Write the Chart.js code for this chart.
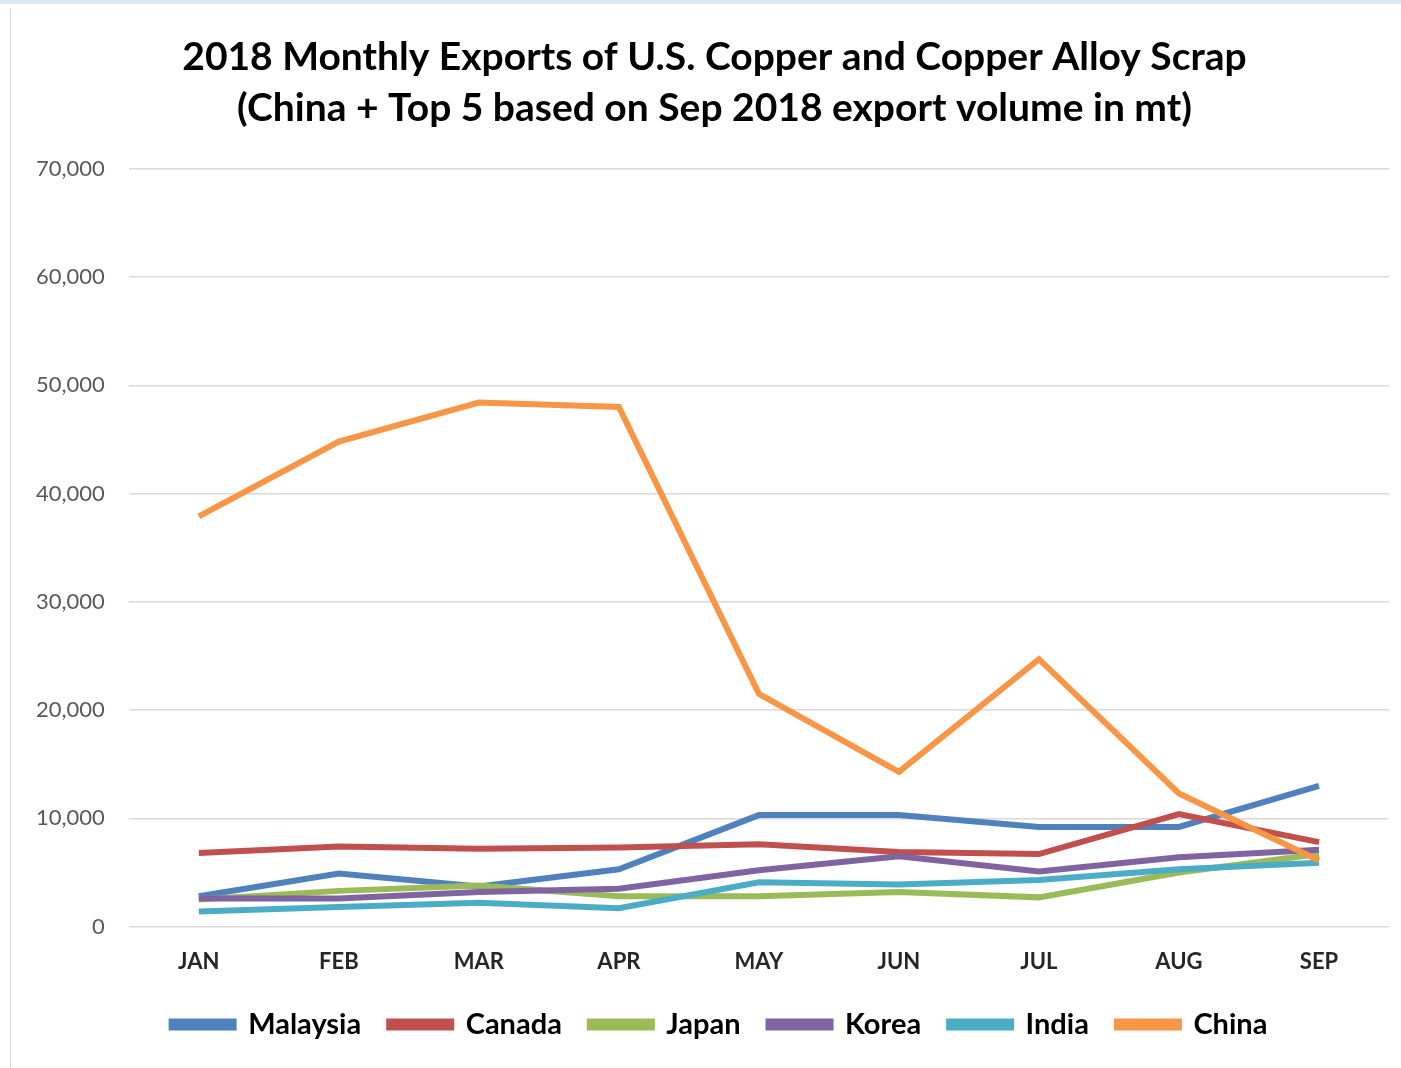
<!DOCTYPE html>
<html>
<head>
<meta charset="utf-8">
<script src="https://cdn.jsdelivr.net/npm/chart.js@4.4.0/dist/chart.umd.min.js"></script>
<style>
  html, body { margin:0; padding:0; background:#fff; }
  #frame { position:absolute; left:0; top:0; width:1401px; height:1068px; border-top:4px solid #dbe8f5; box-sizing:border-box; }
  #edge { position:absolute; left:10px; top:8px; width:1px; height:1060px; background:#d9d9d9; }
  #wrap { position:absolute; left:0; top:0; width:1401px; height:1068px; }
</style>
</head>
<body>
<div id="frame"></div>
<div id="edge"></div>
<div id="wrap"><canvas id="export-plot"></canvas></div>
<script>
'use strict';

const months = ['JAN','FEB','MAR','APR','MAY','JUN','JUL','AUG','SEP'];
const malaysia = [2800, 4900, 3700, 5300, 10300, 10300, 9200, 9200, 13000];
const canada   = [6800, 7400, 7200, 7300, 7600, 6900, 6700, 10400, 7800];
const japan    = [2500, 3300, 3800, 2800, 2800, 3200, 2700, 5000, 6700];
const korea    = [2600, 2600, 3200, 3500, 5200, 6500, 5100, 6400, 7100];
const india    = [1400, 1800, 2200, 1700, 4100, 3900, 4300, 5300, 5900];
const china    = [37900, 44800, 48400, 48000, 21500, 14300, 24700, 12300, 6100];
const yTicks   = [0, 10000, 20000, 30000, 40000, 50000, 60000, 70000];

const series = [
  {label:'Malaysia', data:malaysia, color:'#4f81bd'},
  {label:'Canada',   data:canada,   color:'#c0504d'},
  {label:'Japan',    data:japan,    color:'#9bbb59'},
  {label:'Korea',    data:korea,    color:'#8064a2'},
  {label:'India',    data:india,    color:'#4bacc6'},
  {label:'China',    data:china,    color:'#f79646'}
];

let chart = null;

// nudge title and legend a bit to the right, like the Excel original
const nudge = {
  id:'nudge',
  afterLayout(c){
    if (c.titleBlock) { c.titleBlock.left += 28; }
    if (c.legend) { c.legend.left += 38; }
  }
};

function makePlot(){
  chart = new Chart(document.querySelector('#export-plot'),{
    type:'line',
    plugins:[nudge],
    data:{
      labels:months,
      datasets:series.map((s, i)=>({
        label:s.label,
        data:s.data,
        borderColor:s.color,
        backgroundColor:s.color,
        borderWidth:6,
        pointRadius:0,
        tension:0,
        order:series.length - i
      }))
    },
    options:{
      responsive:false,
      animation:false,
      layout:{padding:{left:12, right:12, top:31, bottom:19}},
      plugins:{
        title:{
          display:true,
          text:['2018 Monthly Exports of U.S. Copper and Copper Alloy Scrap',
                '(China + Top 5 based on Sep 2018 export volume in mt)'],
          color:'#000',
          font:{family:'Lato', size:39, weight:'bold', lineHeight:1.33},
          padding:{top:0, bottom:34}
        },
        legend:{
          position:'bottom',
          labels:{
            color:'#000',
            font:{family:'Lato', size:29, weight:'bold'},
            boxWidth:62,
            boxHeight:6,
            padding:28,
            sort:(a, b)=>a.datasetIndex - b.datasetIndex
          }
        },
        tooltip:{enabled:false}
      },
      scales:{
        x:{
          offset:true,
          grid:{display:false, drawTicks:false},
          border:{display:false},
          ticks:{color:'#262626', padding:22, font:{family:'Lato', size:22, weight:'bold'}},
          afterFit:(axis)=>{ axis.height -= 15; }
        },
        y:{
          min:0,
          max:70000,
          afterBuildTicks:(axis)=>{ axis.ticks = yTicks.map((v)=>({value:v})); },
          grid:{color:'#d9d9d9', lineWidth:1.5, drawTicks:false},
          border:{display:false},
          ticks:{
            color:'#595959',
            padding:24,
            font:{family:'Lato', size:22},
            callback:(v)=>v.toLocaleString('en-US')
          }
        }
      }
    }
  });
}

window.addEventListener('load', ()=>{
  const c = document.querySelector('#export-plot');
  c.width = 1401;
  c.height = 1068;
  makePlot();
});
</script>
</body>
</html>
